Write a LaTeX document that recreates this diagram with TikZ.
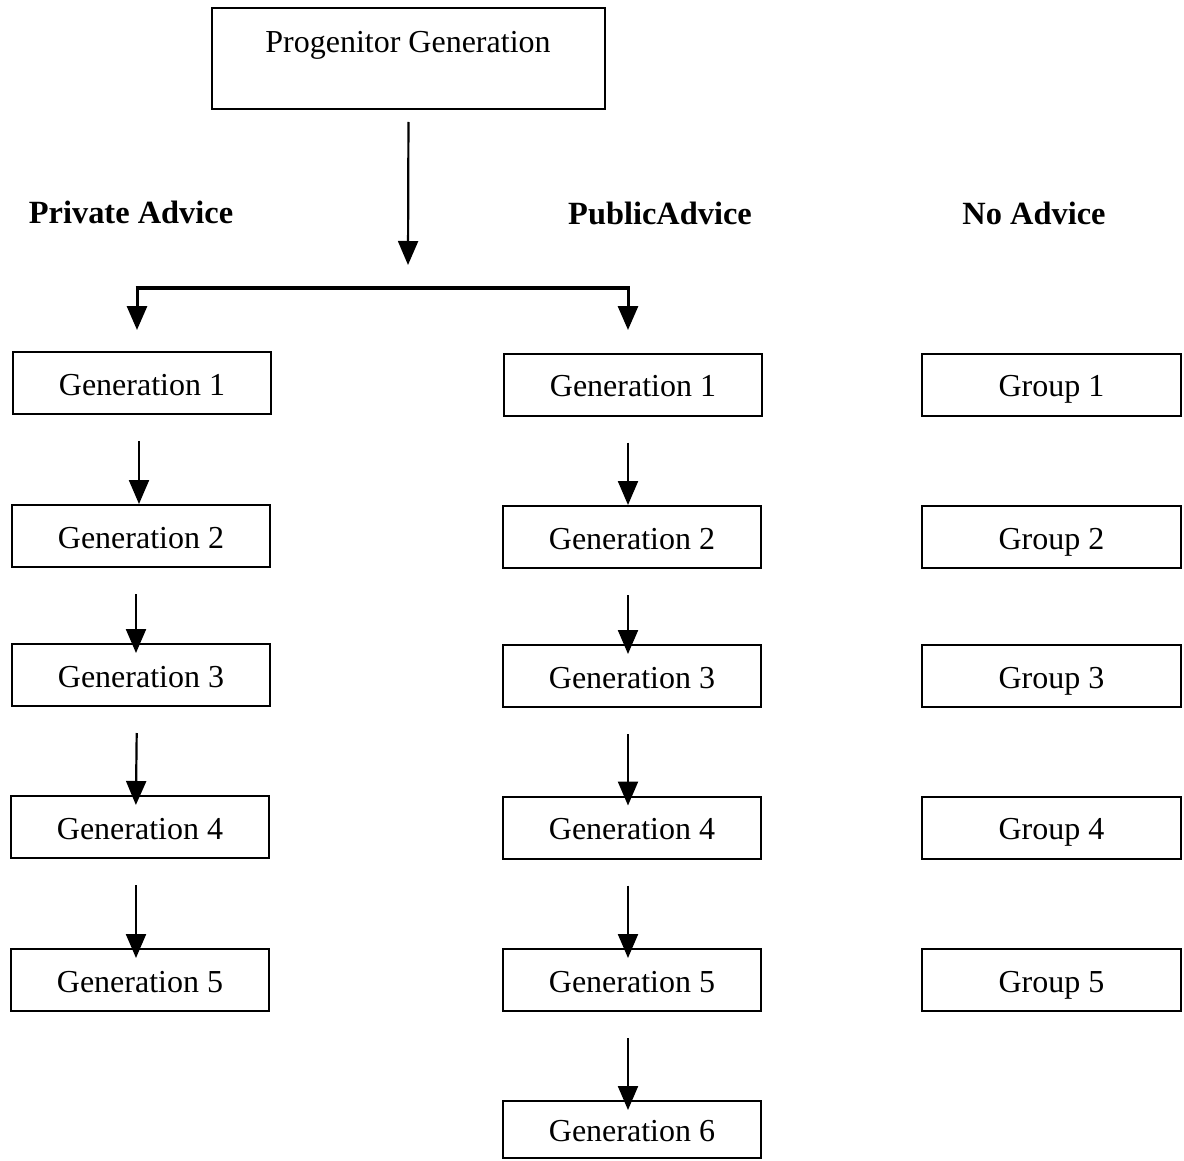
\documentclass[tikz,border=0pt]{standalone}
\usepackage{fontspec}
\setmainfont{Liberation Serif}
\usetikzlibrary{arrows.meta}
\begin{document}
\begin{tikzpicture}[x=0.5pt,y=-0.5pt,
  box/.style={draw,line width=1pt,rectangle,inner sep=0pt,text height=13.5pt,text depth=1.5pt,font=\fontsize{16}{19}\selectfont},
  colL/.style={box,minimum width=129pt,minimum height=31pt},
  colM/.style={box,minimum width=129pt,minimum height=31pt},
  colR/.style={box,minimum width=129.5pt,minimum height=31pt},
  head/.style={font=\fontsize{16.2}{19}\selectfont\bfseries,inner sep=0pt,text height=13pt,text depth=2pt},
  arr/.style={line width=1.1pt,-{Triangle[width=10pt,length=12pt]}},
  gap/.style={shorten <=13pt},
  over/.style={shorten >=-5pt}]
\useasboundingbox (0,0) rectangle (1184,1161);
% progenitor
\node[box,minimum width=196.5pt,minimum height=50.5pt] (prog) at (408.5,58.5) {};
\node[font=\fontsize{16}{19}\selectfont,inner sep=0pt,text height=13.5pt,text depth=1.5pt] (progt) at (408,41) {Progenitor Generation};
\coordinate (tp) at (408,265);
\draw[arr,shorten <=6pt] (prog.south) -- (tp);
% headers
\node[head] (hL) at (131,212) {Private Advice};
\node[head] (hM) at (660,213) {PublicAdvice};
\node[head] (hR) at (1034,214) {No Advice};
% split bar
\coordinate (bl) at (137,288);
\coordinate (br) at (628,288);
\coordinate (tl) at (137,330);
\coordinate (tr) at (628,330);
\draw[line width=2pt] ([xshift=-0.75pt]bl) -- ([xshift=0.75pt]br);
\draw[arr,line width=1.5pt] (bl) -- (tl);
\draw[arr,line width=1.5pt] (br) -- (tr);
% left column
\node[colL] (L1) at (142,383) {Generation 1};
\node[colL] (L2) at (141,536) {Generation 2};
\node[colL] (L3) at (141,675) {Generation 3};
\node[colL] (L4) at (140,827) {Generation 4};
\node[colL] (L5) at (140,980) {Generation 5};
% middle column
\node[colM] (M1) at (633,384.5) {Generation 1};
\node[colM] (M2) at (632,537) {Generation 2};
\node[colM] (M3) at (632,676) {Generation 3};
\node[colM] (M4) at (632,827.5) {Generation 4};
\node[colM] (M5) at (632,980) {Generation 5};
\node[box,minimum width=129pt,minimum height=28.5pt] (M6) at (632,1129.5) {Generation 6};
% right column
\node[colR] (R1) at (1051.5,384.5) {Group 1};
\node[colR] (R2) at (1051.5,537) {Group 2};
\node[colR] (R3) at (1051.5,676) {Group 3};
\node[colR] (R4) at (1051.5,827.5) {Group 4};
\node[colR] (R5) at (1051.5,980) {Group 5};
% left arrows
\draw[arr,gap] ([xshift=-1.5pt]L1.south) -- ([xshift=-1pt]L2.north);
\draw[arr,gap,over] ([xshift=-2.5pt]L2.south) -- ([xshift=-2.5pt]L3.north);
\draw[arr,gap,over] ([xshift=-2pt]L3.south) -- ([xshift=-2pt]L4.north);
\draw[arr,gap,over] ([xshift=-2pt]L4.south) -- ([xshift=-2pt]L5.north);
% middle arrows
\draw[arr,gap] ([xshift=-2.5pt]M1.south) -- ([xshift=-2pt]M2.north);
\draw[arr,gap,over] ([xshift=-2pt]M2.south) -- ([xshift=-2pt]M3.north);
\draw[arr,gap,over] ([xshift=-2pt]M3.south) -- ([xshift=-2pt]M4.north);
\draw[arr,gap,over] ([xshift=-2pt]M4.south) -- ([xshift=-2pt]M5.north);
\draw[arr,gap,over] ([xshift=-2pt]M5.south) -- ([xshift=-2pt]M6.north);
\end{tikzpicture}
\end{document}
